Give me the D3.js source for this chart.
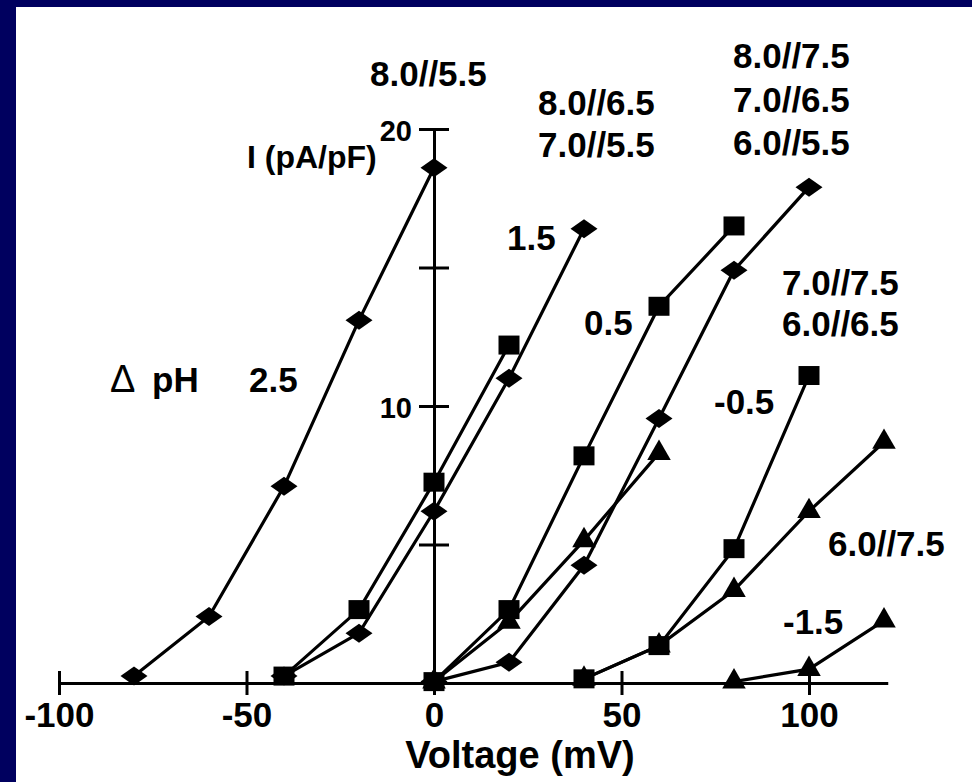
<!DOCTYPE html>
<html>
<head>
<meta charset="utf-8">
<script src="https://cdn.jsdelivr.net/npm/d3@7"></script>
<style>
  html, body { margin: 0; padding: 0; background: #ffffff; }
  svg { display: block; }
  text { font-family: "Liberation Sans", Arial, Helvetica, sans-serif; font-weight: bold; fill: #000; }
</style>
</head>
<body>
<svg id="chart" width="972" height="782"></svg>
<script>
// Current density (pA/pF) against membrane voltage (mV), grouped by pH gradient.
// ΔpH 2.5 : 8.0//5.5
const vPH25 = [-80, -60, -40, -20, 0];
const iPH25 = [0.25, 2.4, 7.1, 13.1, 18.6];
// ΔpH 1.5 : 8.0//6.5 and 7.0//5.5
const vPH15sq = [-40, -20, 0, 20];
const iPH15sq = [0.25, 2.65, 7.25, 12.2];
const vPH15di = [-40, -20, 0, 20, 40];
const iPH15di = [0.25, 1.8, 6.2, 11.0, 16.4];
// ΔpH 0.5 : 8.0//7.5, 7.0//6.5, 6.0//5.5
const vPH05sq = [0, 20, 40, 60, 80];
const iPH05sq = [0.05, 2.65, 8.2, 13.6, 16.5];
const vPH05di = [0, 20, 40, 60, 80, 100];
const iPH05di = [0.05, 0.75, 4.25, 9.55, 14.9, 17.9];
const vPH05tr = [0, 20, 40, 60];
const iPH05tr = [0.05, 2.2, 5.15, 8.3];
// ΔpH -0.5 : 7.0//7.5 and 6.0//6.5
const vPHm05sq = [40, 60, 80, 100];
const iPHm05sq = [0.15, 1.35, 4.85, 11.1];
const vPHm05tr = [40, 60, 80, 100, 120];
const iPHm05tr = [0.15, 1.35, 3.35, 6.2, 8.7];
// ΔpH -1.5 : 6.0//7.5
const vPHm15tr = [80, 100, 120];
const iPHm15tr = [0.05, 0.5, 2.25];

const xTicks = [-100, -50, 0, 50, 100];
const yTicks = [5, 10, 15, 20];
const yLabelled = [10, 20];

const series = [
  { v: vPH25,    i: iPH25,    mark: "diamond" },
  { v: vPH15sq,  i: iPH15sq,  mark: "square" },
  { v: vPH15di,  i: iPH15di,  mark: "diamond" },
  { v: vPH05sq,  i: iPH05sq,  mark: "square" },
  { v: vPH05tr,  i: iPH05tr,  mark: "triangle" },
  { v: vPH05di,  i: iPH05di,  mark: "diamond" },
  { v: vPHm05tr, i: iPHm05tr, mark: "triangle" },
  { v: vPHm05sq, i: iPHm05sq, mark: "square" },
  { v: vPHm15tr, i: iPHm15tr, mark: "triangle" }
];

const W = 972, H = 782;
const svg = d3.select("#chart");

// dark frame with white panel
svg.append("rect").attr("x", 0).attr("y", 0).attr("width", W).attr("height", H).attr("fill", "#00005f");
svg.append("rect").attr("x", 16).attr("y", 7).attr("width", W - 16).attr("height", H - 7).attr("fill", "#ffffff");

const x = d3.scaleLinear().domain([-100, 121]).range([59, 887.75]);
const y = d3.scaleLinear().domain([0, 20]).range([683, 129]);

// x axis with ticks crossing the line
const gx = svg.append("g").attr("transform", `translate(0,${y(0)})`)
  .call(d3.axisBottom(x).tickValues(xTicks).tickFormat(d => String(d))
    .tickSizeOuter(0).tickSizeInner(12).tickPadding(0));
gx.select(".domain").attr("stroke", "#000").attr("stroke-width", 3);
gx.selectAll(".tick line").attr("y1", -12).attr("y2", 12).attr("stroke", "#000").attr("stroke-width", 3);
gx.selectAll(".tick text")
  .attr("y", 44).attr("dy", 0)
  .style("font-size", "35px").style("font-family", "Liberation Sans, Arial, sans-serif").style("font-weight", "bold")
  .attr("fill", "#000");

// y axis through zero volts
const gy = svg.append("g").attr("transform", `translate(${x(0)},0)`)
  .call(d3.axisLeft(y).tickValues(yTicks).tickSizeOuter(0).tickSizeInner(15)
    .tickFormat(d => yLabelled.includes(d) ? String(d) : ""));
gy.select(".domain").attr("stroke", "#000").attr("stroke-width", 3);
gy.selectAll(".tick line").attr("x1", -15).attr("x2", 15).attr("stroke", "#000").attr("stroke-width", 3);
gy.selectAll(".tick text")
  .attr("x", -22).attr("dy", 0).attr("y", 11)
  .style("font-size", "29px").style("font-family", "Liberation Sans, Arial, sans-serif").style("font-weight", "bold")
  .attr("fill", "#000");

// marker shapes
const wideDiamond = { draw(ctx, size) { ctx.moveTo(0, -9.5); ctx.lineTo(13.5, 0); ctx.lineTo(0, 9.5); ctx.lineTo(-13.5, 0); ctx.closePath(); } };
const boxSquare = { draw(ctx, size) { ctx.moveTo(-10.5, -9.5); ctx.lineTo(10.5, -9.5); ctx.lineTo(10.5, 9.5); ctx.lineTo(-10.5, 9.5); ctx.closePath(); } };
const shapes = {
  diamond: d3.symbol().type(wideDiamond)(),
  square: d3.symbol().type(boxSquare)(),
  triangle: d3.symbol().type(d3.symbolTriangle).size(240)()
};

const line = d3.line().x(d => x(d[0])).y(d => y(d[1]));
const plot = svg.append("g");
series.forEach(s => {
  const pts = s.v.map((v, k) => [v, s.i[k]]);
  plot.append("path").attr("d", line(pts)).attr("fill", "none").attr("stroke", "#000").attr("stroke-width", 3.2);
});
series.forEach(s => {
  const pts = s.v.map((v, k) => [v, s.i[k]]);
  plot.selectAll(null).data(pts).enter().append("path")
    .attr("d", shapes[s.mark])
    .attr("transform", d => `translate(${x(d[0])},${y(d[1])})`)
    .attr("fill", "#000");
});

// annotations
const notes = [
  { t: "8.0//5.5", x: 370, y: 86, s: 35 },
  { t: "I (pA/pF)", x: 247, y: 168, s: 32 },
  { t: "8.0//6.5", x: 538, y: 115, s: 35 },
  { t: "7.0//5.5", x: 538, y: 157, s: 35 },
  { t: "8.0//7.5", x: 733, y: 68, s: 35 },
  { t: "7.0//6.5", x: 733, y: 112, s: 35 },
  { t: "6.0//5.5", x: 733, y: 155, s: 35 },
  { t: "1.5", x: 507, y: 250, s: 35 },
  { t: "0.5", x: 584, y: 335, s: 35 },
  { t: "7.0//7.5", x: 782, y: 295, s: 35 },
  { t: "6.0//6.5", x: 782, y: 336, s: 35 },
  { t: "2.5", x: 249, y: 392, s: 35 },
  { t: "-0.5", x: 714, y: 414, s: 35 },
  { t: "6.0//7.5", x: 828, y: 556, s: 35 },
  { t: "-1.5", x: 783, y: 634, s: 35 }
];
svg.append("g").selectAll("text").data(notes).enter().append("text")
  .attr("x", d => d.x).attr("y", d => d.y)
  .style("font-size", d => d.s + "px")
  .text(d => d.t);

svg.append("text").attr("x", 110).attr("y", 392)
  .style("font-weight", "normal").style("font-size", "38px").text("\u0394");
svg.append("text").attr("x", 152).attr("y", 392).style("font-size", "35px").text("pH");

svg.append("text").attr("x", 520).attr("y", 768).attr("text-anchor", "middle")
  .style("font-size", "38px").text("Voltage (mV)");
</script>
</body>
</html>
